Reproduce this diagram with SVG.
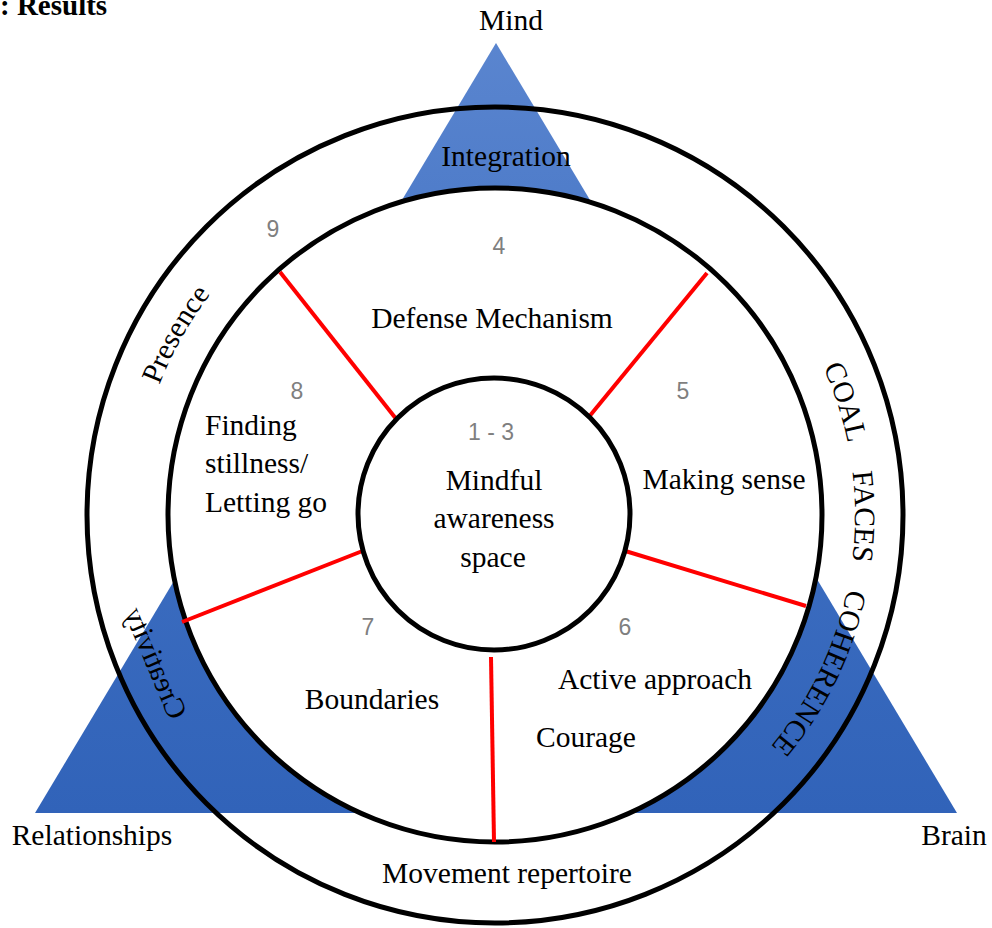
<svg xmlns="http://www.w3.org/2000/svg" xmlns:xlink="http://www.w3.org/1999/xlink" width="992" height="928" viewBox="0 0 992 928">
<defs>
<linearGradient id="blue" gradientUnits="userSpaceOnUse" x1="0" y1="43" x2="0" y2="813">
<stop offset="0" stop-color="#5A85CF"/>
<stop offset="0.5" stop-color="#3F70C2"/>
<stop offset="1" stop-color="#3163B9"/>
</linearGradient>
<path id="ringArc" d="M140.5,452.5 A360,360 0 1 1 675,826.8"/>
<style>
.lbl{font-family:"Liberation Serif","Times New Roman",serif;font-size:29.5px;fill:#000}
.num{font-family:"Liberation Sans",Arial,sans-serif;font-size:23px;fill:#7F7F7F;text-anchor:middle}
.ring{fill:none;stroke:#000;stroke-width:5}
.disk{fill:#fff;stroke:#000;stroke-width:5}
.div{stroke:#FF0000;stroke-width:4;fill:none}
.mid{text-anchor:middle}
</style>
</defs>
<rect width="992" height="928" fill="#fff"/>
<text x="0" y="15" style="font-family:'Liberation Serif','Times New Roman',serif;font-weight:bold;font-size:29px">: Results</text>
<g id="triangle">
<polygon points="496,43 35,813 957,813" fill="url(#blue)"/>
</g>
<g id="outer-ring">
<circle cx="495" cy="515" r="408" class="ring"/>
</g>
<g id="inner-wheel">
<circle cx="495" cy="515" r="327" class="disk"/>
</g>
<g id="connectors">
<line x1="280" y1="272" x2="397" y2="420" class="div"/>
<line x1="707" y1="273" x2="588" y2="418" class="div"/>
<line x1="182" y1="622" x2="365" y2="550" class="div"/>
<line x1="622" y1="550" x2="806" y2="606" class="div"/>
<line x1="491" y1="657" x2="494" y2="842" class="div"/>
</g>
<g id="center">
<circle cx="494" cy="514" r="136" class="disk"/>
<text class="num" x="491" y="440">1 - 3</text>
<text class="lbl mid" x="494" y="490">Mindful</text>
<text class="lbl mid" x="494" y="528">awareness</text>
<text class="lbl mid" x="493" y="567">space</text>
</g>
<g id="seg4">
<text class="num" x="499" y="254">4</text>
<text class="lbl mid" x="492" y="328">Defense Mechanism</text>
</g>
<g id="seg5">
<text class="num" x="683" y="399">5</text>
<text class="lbl mid" x="724" y="489">Making sense</text>
</g>
<g id="seg6">
<text class="num" x="625" y="635">6</text>
<text class="lbl mid" x="655" y="689">Active approach</text>
<text class="lbl mid" x="586" y="747">Courage</text>
</g>
<g id="seg7">
<text class="num" x="368" y="635">7</text>
<text class="lbl mid" x="372" y="709">Boundaries</text>
</g>
<g id="seg8">
<text class="num" x="297" y="399">8</text>
<text class="lbl" x="205" y="435">Finding</text>
<text class="lbl" x="205" y="473">stillness/</text>
<text class="lbl" x="205" y="512">Letting go</text>
</g>
<g id="seg9">
<text class="num" x="273" y="237">9</text>
</g>
<g id="ring-labels">
<text class="lbl mid" x="506" y="166">Integration</text>
<text class="lbl mid" x="507" y="883">Movement repertoire</text>
<text class="lbl mid"><textPath href="#ringArc" xlink:href="#ringArc" startOffset="122.5">Presence</textPath></text>
<text class="lbl mid"><textPath href="#ringArc" xlink:href="#ringArc" startOffset="955.7">COAL</textPath></text>
<text class="lbl mid"><textPath href="#ringArc" xlink:href="#ringArc" startOffset="1069.4">FACES</textPath></text>
<text class="lbl mid"><textPath href="#ringArc" xlink:href="#ringArc" startOffset="1230.9">COHERENCE</textPath></text>
<text class="lbl mid" dominant-baseline="central" transform="translate(156,663) rotate(-113) scale(1,-1)">Creativity</text>
</g>
<g id="corners">
<text class="lbl mid" x="511" y="30">Mind</text>
<text class="lbl mid" x="92" y="845">Relationships</text>
<text class="lbl mid" x="954" y="845">Brain</text>
</g>
</svg>
